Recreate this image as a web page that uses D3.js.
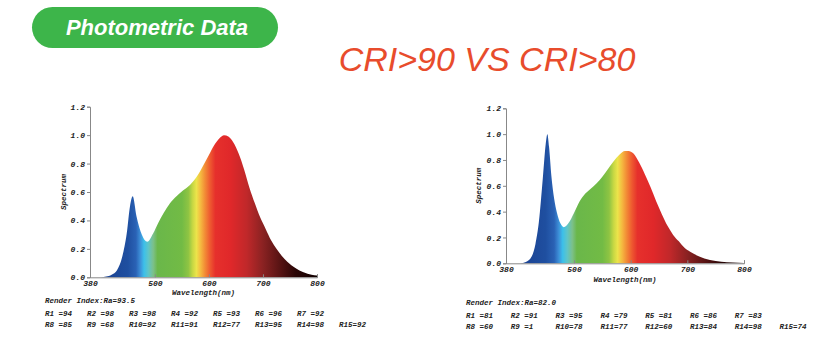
<!DOCTYPE html>
<html><head><meta charset="utf-8">
<script src="https://cdn.jsdelivr.net/npm/d3@7"></script>
<style>body{margin:0;background:#fff}svg{display:block}</style>
</head><body>
<svg id="c" width="831" height="351"></svg>
<script>
const title = "Photometric Data";
const subtitle = "CRI>90 VS CRI>80";

const wlA = [380,400,410,420,430,440,448,454,459,466,476,486,497,506,516,528,540,552,565,578,590,600,610,620,628,636,645,655,665,675,685,695,705,715,725,735,745,760,775,790,800];
const valA = [0,0,0.005,0.018,0.05,0.15,0.31,0.5,0.57,0.43,0.3,0.25,0.31,0.38,0.45,0.52,0.57,0.61,0.65,0.71,0.79,0.86,0.93,0.98,1.0,0.99,0.95,0.87,0.76,0.63,0.52,0.42,0.34,0.26,0.2,0.15,0.11,0.065,0.035,0.018,0.012];

const wlB = [380,405,415,425,432,438,445,450,453,456,460,465,470,476,482,490,500,510,520,530,540,550,560,570,580,590,596,605,615,625,635,645,655,665,675,685,695,705,720,740,760,780,800];
const valB = [0,0,0.01,0.05,0.15,0.32,0.66,0.92,1.0,0.9,0.68,0.5,0.39,0.31,0.28,0.31,0.39,0.48,0.54,0.58,0.62,0.67,0.73,0.79,0.84,0.87,0.87,0.85,0.78,0.69,0.59,0.48,0.38,0.29,0.22,0.17,0.12,0.09,0.055,0.025,0.012,0.006,0.003];

const yTicks = [0,0.2,0.4,0.6,0.8,1.0,1.2];
const xTicks = [380,500,600,700,800];

const renderA = "Render Index:Ra=93.5";
const rLabels = ["R1","R2","R3","R4","R5","R6","R7","R8","R9","R10","R11","R12","R13","R14","R15"];
const rA = [94,98,98,92,93,96,92,85,68,92,91,77,95,98,92];
const renderB = "Render Index:Ra=82.0";
const rB = [81,91,95,79,81,86,83,60,1,78,77,60,84,98,74];

const gradWl = [400,450,465,473,480,488,497,505,550,562,570,577,585,593,602,612,640,670,700,730,760,800];
const gradCol = ["#1a3f8f","#1f4fa0","#2a62b5","#3d8fd8","#3cc0ea","#5fc5c8","#7cc08a","#6ab74a","#72bb45","#8fc443","#c8d843","#ece44a","#f5b840","#f28a35","#ee5a30","#e6302c","#e0282a","#c0282a","#8a2222","#5a1414","#2a0606","#100000"];

const svg = d3.select("#c");
const defs = svg.append("defs");

svg.append("rect").attr("x",32).attr("y",7).attr("width",246).attr("height",41).attr("rx",20.5).attr("fill","#3db54a");
svg.append("text").attr("x",157).attr("y",35).attr("text-anchor","middle")
  .attr("font-family","Liberation Sans, Arial, sans-serif").attr("font-weight","bold").attr("font-style","italic")
  .attr("font-size",22).attr("fill","#fff").text(title);
svg.append("text").attr("x",487).attr("y",71).attr("text-anchor","middle")
  .attr("font-family","Liberation Sans, Arial, sans-serif").attr("font-style","italic")
  .attr("font-size",34).attr("fill","#e84c2c").text(subtitle);

const mono = "Liberation Mono, Courier New, monospace";

function chart(id, wl, val, x0, x1, y0, y1, ylabX, xlabY, tickDy, render, rvals, rx, ry, rdx) {
  const x = d3.scaleLinear().domain([380,800]).range([x0,x1]);
  const y = d3.scaleLinear().domain([0,1.2]).range([y0,y1]);
  const g = svg.append("g");
  const grad = defs.append("linearGradient").attr("id",id).attr("gradientUnits","userSpaceOnUse")
    .attr("x1",x(380)).attr("x2",x(800)).attr("y1",0).attr("y2",0);
  gradWl.forEach((w,i)=>grad.append("stop").attr("offset",(w-380)/420).attr("stop-color",gradCol[i]));
  const data = wl.map((w,i)=>({w, v: val[i]}));
  const area = d3.area().x(d=>x(d.w)).y0(y(0)).y1(d=>y(d.v)).curve(d3.curveMonotoneX);
  g.append("path").datum(data).attr("d",area).attr("fill",`url(#${id})`);

  const ya = g.append("g").attr("transform",`translate(${x0},0)`)
    .call(d3.axisLeft(y).tickValues(yTicks).tickFormat(d3.format(".1f")).tickSize(3).tickPadding(2));
  const xa = g.append("g").attr("transform",`translate(0,${y0})`)
    .call(d3.axisBottom(x).tickValues(xTicks).tickFormat(d3.format("d")).tickSize(-3).tickPadding(2));
  [ya,xa].forEach(a=>{
    a.selectAll("path,line").attr("stroke","#888");
    a.selectAll("text").attr("font-family",mono).attr("font-weight","bold").attr("font-style","italic")
      .attr("font-size",8).attr("fill","#222");
  });
  xa.selectAll("text").attr("dy",tickDy);
  g.append("text").attr("transform",`translate(${ylabX},${(y0+y1)/2}) rotate(-90)`).attr("text-anchor","middle")
    .attr("font-family",mono).attr("font-weight","bold").attr("font-style","italic").attr("font-size",7.5).attr("fill","#222").text("Spectrum");
  g.append("text").attr("x",(x0+x1)/2).attr("y",xlabY).attr("text-anchor","middle")
    .attr("font-family",mono).attr("font-weight","bold").attr("font-style","italic").attr("font-size",7.5).attr("fill","#222").text("Wavelength(nm)");

  const tg = svg.append("g").attr("font-family",mono).attr("font-weight","bold").attr("font-style","italic")
    .attr("font-size",7.5).attr("fill","#222");
  tg.append("text").attr("x",rx).attr("y",ry).text(render);
  rvals.forEach((v,i)=>{
    const row = i<7?0:1, col = i<7?i:i-7;
    const lab = rLabels[i];
    const s = lab.length===2 ? lab+" ="+v : lab+"="+v;
    tg.append("text").attr("x",rx+col*rdx).attr("y",ry+13+row*11).text(s);
  });
}

chart("gA", wlA, valA, 90, 317, 277.3, 106.7, 66, 295, "0.8em", renderA, rA, 45, 303, 42);
chart("gB", wlB, valB, 506, 744, 263.3, 108.3, 481, 282, "0.8em", renderB, rB, 466, 305, 44.8);
</script>
</body></html>
